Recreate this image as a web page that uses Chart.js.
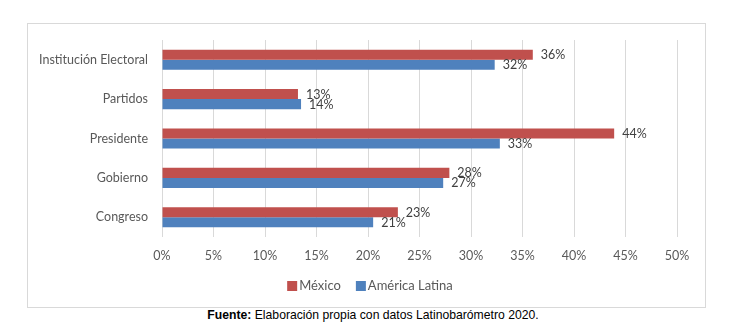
<!DOCTYPE html>
<html>
<head>
<meta charset="utf-8">
<script src="https://cdn.jsdelivr.net/npm/chart.js@4.4.1/dist/chart.umd.min.js"></script>
<style>
  html, body { margin: 0; padding: 0; background: #fff; }
  #wrap { position: absolute; left: 0; top: 0; width: 746px; height: 308px; }
  #fuente {
    position: absolute; left: 0; top: 308px; width: 746px; text-align: center;
    font-family: "Liberation Sans", Arial, sans-serif; font-size: 12.2px; color: #000;
  }
</style>
</head>
<body>
<div id="wrap"><canvas id="chart" width="746" height="308"></canvas></div>
<div id="fuente"><b>Fuente:</b> Elaboración propia con datos Latinobarómetro 2020.</div>
<script>
const categories = ['Institución Electoral', 'Partidos', 'Presidente', 'Gobierno', 'Congreso'];
const mexico = [36.0, 13.2, 43.9, 27.9, 22.9];
const americaLatina = [32.3, 13.5, 32.8, 27.3, 20.5];
const xTicks = [0, 5, 10, 15, 20, 25, 30, 35, 40, 45, 50];

const RED = '#C0504D';
const BLUE = '#4F81BD';
const GRID = '#d9d9d9';
const FONT = 'Lato, "Open Sans", sans-serif';

// frame around the whole chart
const framePlugin = {
  id: 'frame',
  beforeDraw(chart) {
    const { ctx } = chart;
    ctx.save();
    ctx.fillStyle = '#fff';
    ctx.fillRect(0, 0, chart.width, chart.height);
    ctx.strokeStyle = GRID;
    ctx.lineWidth = 1;
    ctx.strokeRect(27.5, 23.5, 678, 284);
    ctx.restore();
  }
};

// value labels at the end of each bar
const valueLabels = {
  id: 'valueLabels',
  afterDatasetsDraw(chart) {
    const { ctx } = chart;
    ctx.save();
    ctx.font = '12.5px ' + FONT;
    ctx.fillStyle = '#404040';
    ctx.textAlign = 'left';
    ctx.textBaseline = 'middle';
    chart.data.datasets.forEach((ds, di) => {
      chart.getDatasetMeta(di).data.forEach((bar, i) => {
        ctx.fillText(Math.round(ds.data[i]) + '%', bar.x + 8, bar.y + 0.5);
      });
    });
    ctx.restore();
  }
};

// Excel-style legend: small square, tight gap to text, centred under the chart
const excelLegend = {
  id: 'excelLegend',
  afterDraw(chart) {
    const { ctx } = chart;
    const items = chart.data.datasets;
    ctx.save();
    ctx.font = '13px ' + FONT;
    ctx.textBaseline = 'middle';
    ctx.textAlign = 'left';
    const box = 10, gap = 2, itemGap = 15;
    const widths = items.map(d => box + gap + ctx.measureText(d.label).width);
    const total = widths.reduce((a, b) => a + b, 0) + itemGap * (items.length - 1);
    let x = 370 - total / 2;
    const y = 286;
    items.forEach((d, i) => {
      ctx.fillStyle = d.backgroundColor;
      ctx.fillRect(x, y - box / 2, box, box);
      ctx.fillStyle = '#595959';
      ctx.fillText(d.label, x + box + gap, y);
      x += widths[i] + itemGap;
    });
    ctx.restore();
  }
};

new Chart(document.getElementById('chart'), {
  type: 'bar',
  plugins: [framePlugin, valueLabels, excelLegend],
  data: {
    labels: categories,
    datasets: [
      { label: 'México', data: mexico, backgroundColor: RED },
      { label: 'América Latina', data: americaLatina, backgroundColor: BLUE }
    ]
  },
  options: {
    indexAxis: 'y',
    responsive: false,
    animation: false,
    datasets: { bar: { categoryPercentage: 0.51, barPercentage: 1.0 } },
    layout: { padding: { left: 0, right: 69, top: 40, bottom: 41 } },
    scales: {
      x: {
        min: 0, max: 50,
        afterBuildTicks(axis) { axis.ticks = xTicks.map(v => ({ value: v })); },
        afterFit(axis) { axis.height = 30; },
        ticks: {
          color: '#595959',
          font: { family: FONT, size: 12.5 },
          padding: 11,
          callback: v => v + '%'
        },
        grid: { color: GRID, drawTicks: false },
        border: { display: false }
      },
      y: {
        afterFit(axis) { axis.width = 162; },
        ticks: {
          color: '#595959',
          font: { family: FONT, size: 12.5 },
          padding: 14
        },
        grid: { display: false, drawTicks: false },
        border: { display: false }
      }
    },
    plugins: {
      legend: { display: false },
      tooltip: { enabled: false }
    }
  }
});
</script>
</body>
</html>
